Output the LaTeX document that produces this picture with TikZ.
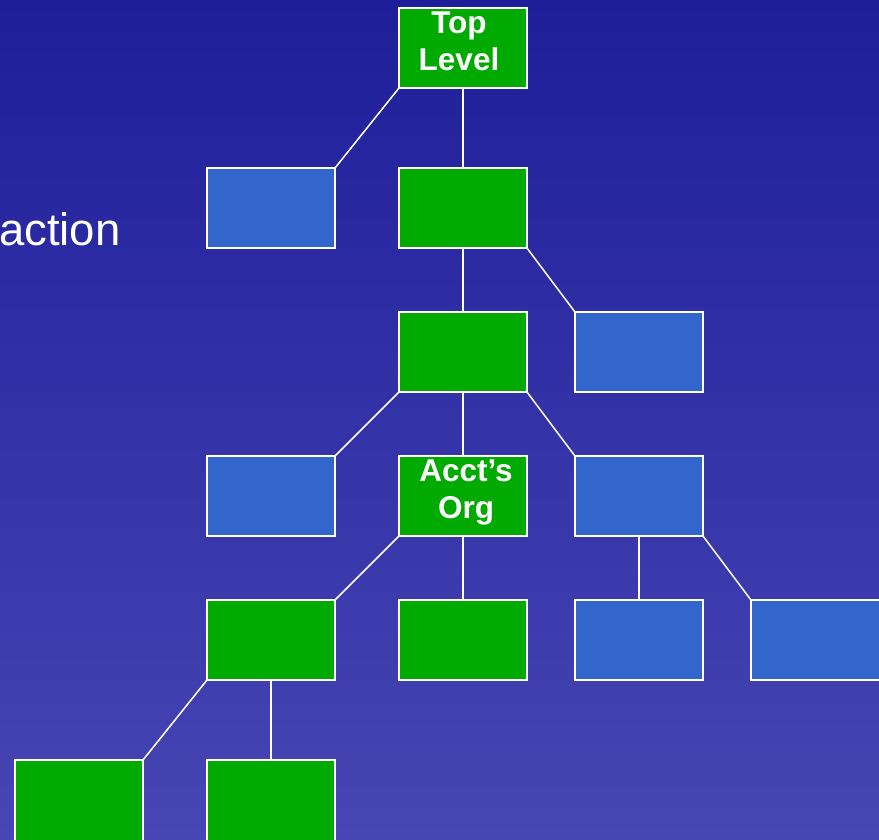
\documentclass[tikz,border=0pt]{standalone}
\usepackage{fontspec}
\setmainfont{Liberation Sans}
\definecolor{bgtop}{RGB}{30,30,154}
\definecolor{bgbot}{RGB}{72,70,180}
\definecolor{boxgreen}{RGB}{0,170,0}
\definecolor{boxblue}{RGB}{51,102,204}
\begin{document}
\begin{tikzpicture}[x=1pt,y=-1pt,
  box/.style={draw=white,line width=2pt,minimum width=128pt,minimum height=80pt,inner sep=0pt,outer sep=0pt,anchor=north west},
  gbox/.style={box,fill=boxgreen},
  bbox/.style={box,fill=boxblue},
  link/.style={draw=white,line width=1.5pt},
  lbl/.style={text=white,font=\bfseries\fontsize{31.5}{37}\selectfont,align=center,inner sep=0pt,anchor=north}]
\useasboundingbox (0,0) rectangle (879,839);
\clip (0,0) rectangle (879,839);
\shade[top color=bgtop,bottom color=bgbot] (0,0) rectangle (879,839);
\node[text=white,font=\fontsize{45.5}{50}\selectfont,inner sep=0pt,anchor=base west] (act) at (-1,245) {action};
% boxes
\node[gbox] (top) at (399,8) {};
\node[bbox] (b2l) at (207,168) {};
\node[gbox] (g2) at (399,168) {};
\node[gbox] (g3) at (399,312) {};
\node[bbox] (b3r) at (575,312) {};
\node[bbox] (b4l) at (207,456) {};
\node[gbox] (acct) at (399,456) {};
\node[bbox] (b4r) at (575,456) {};
\node[gbox] (g5l) at (207,600) {};
\node[gbox] (g5m) at (399,600) {};
\node[bbox] (b5a) at (575,600) {};
\node[bbox,minimum width=136pt] (b5b) at (751,600) {};
\node[gbox,minimum height=88pt] (g6a) at (15,760) {};
\node[gbox,minimum height=88pt] (g6b) at (207,760) {};
% labels
\node[lbl] (toplbl) at (459,12) {Top\\Level};
\node[lbl] (acctlbl) at (466,460) {Acct’s\\Org};
% connectors
\draw[link] (top.south west) -- (b2l.north east);
\draw[link] (top.south) -- (g2.north);
\draw[link] (g2.south) -- (g3.north);
\draw[link] (g2.south east) -- (b3r.north west);
\draw[link] (g3.south west) -- (b4l.north east);
\draw[link] (g3.south) -- (acct.north);
\draw[link] (g3.south east) -- (b4r.north west);
\draw[link] (acct.south west) -- (g5l.north east);
\draw[link] (acct.south) -- (g5m.north);
\draw[link] (b4r.south) -- (b5a.north);
\draw[link] (b4r.south east) -- (b5b.north west);
\draw[link] (g5l.south west) -- (g6a.north east);
\draw[link] (g5l.south) -- (g6b.north);
\end{tikzpicture}
\end{document}
